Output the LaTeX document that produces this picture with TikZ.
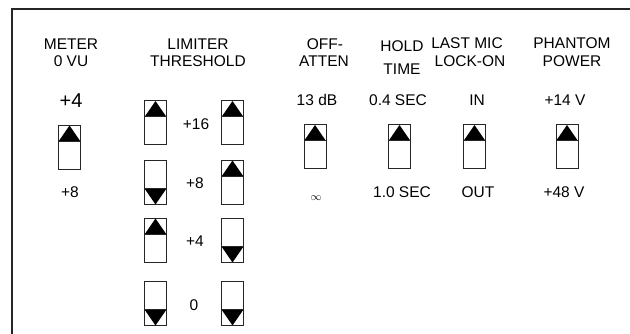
\documentclass[tikz,border=0pt]{standalone}
\usepackage{fontspec}
\setmainfont{Liberation Sans}
\begin{document}
\begin{tikzpicture}[x=1pt,y=-1pt,
  lbl/.style={inner sep=0pt,anchor=base,font=\fontsize{15.5}{18}\selectfont},
  big/.style={inner sep=0pt,anchor=base,font=\fontsize{20}{24}\selectfont},
  switchbox/.style={draw=black!85,line width=1pt,fill=white,minimum width=22pt,minimum height=44pt,inner sep=0pt},
  swup/.style={switchbox,path picture={\fill[black] (path picture bounding box.north) -- ([yshift=-16pt]path picture bounding box.north east) -- ([yshift=-16pt]path picture bounding box.north west) -- cycle;
     \draw[black!85,line width=1pt] ([yshift=-16pt]path picture bounding box.north east) -- ([yshift=-16pt]path picture bounding box.north west);}},
  swdown/.style={switchbox,path picture={\fill[black] (path picture bounding box.south) -- ([yshift=16pt]path picture bounding box.south east) -- ([yshift=16pt]path picture bounding box.south west) -- cycle;
     \draw[black!85,line width=1pt] ([yshift=16pt]path picture bounding box.south east) -- ([yshift=16pt]path picture bounding box.south west);}}
]
\useasboundingbox (0,0) rectangle (630,334);
\coordinate (fr1) at (630,9);
\coordinate (fr2) at (12,9);
\coordinate (fr3) at (12,334);
\draw[line width=1.6pt,black!85] (fr1) -- (fr2) -- (fr3);

% headers
\node[lbl] (h1a) at (71,50) {METER};
\node[lbl] (h1b) at (71,67) {0 VU};
\node[lbl] (h2a) at (198,50) {LIMITER};
\node[lbl] (h2b) at (198,67) {THRESHOLD};
\node[lbl] (h3a) at (325,50) {OFF-};
\node[lbl] (h3b) at (324,67) {ATTEN};
\node[lbl] (h4a) at (402,52) {HOLD};
\node[lbl] (h4b) at (402,75) {TIME};
\node[lbl] (h5a) at (467,49) {LAST MIC};
\node[lbl] (h5b) at (470,67) {LOCK-ON};
\node[lbl] (h6a) at (572,49) {PHANTOM};
\node[lbl] (h6b) at (572,67) {POWER};

% top values
\node[big] (v1) at (71,108) {+4};
\node[lbl] (v3) at (317,106) {13 dB};
\node[lbl] (v4) at (398,106) {0.4 SEC};
\node[lbl] (v5) at (477,106) {IN};
\node[lbl] (v6) at (565,106) {+14 V};

% bottom values
\node[lbl] (b1) at (70,198) {+8};
\node[inner sep=0pt,font=\fontsize{11}{12}\selectfont] (b3) at (316,198) {$\infty$};
\node[lbl] (b4) at (402,198) {1.0 SEC};
\node[lbl] (b5) at (478,198) {OUT};
\node[lbl] (b6) at (564,198) {+48 V};

% single switches
\node[swup] (s1) at (69.5,147.5) {};
\node[swup] (s3) at (315,147) {};
\node[swup] (s4) at (399.5,147) {};
\node[swup] (s5) at (474.5,147) {};
\node[swup] (s6) at (567,147) {};

% limiter switches
\node[swup]   (l1a) at (155.5,123) {};
\node[swup]   (l1b) at (232.5,123) {};
\node[swdown] (l2a) at (155.5,182.5) {};
\node[swup]   (l2b) at (232.5,182.5) {};
\node[swup]   (l3a) at (155.5,240.5) {};
\node[swdown] (l3b) at (232.5,240.5) {};
\node[swdown] (l4a) at (155.5,303.5) {};
\node[swdown] (l4b) at (232.5,303.5) {};

\node[lbl] (t1) at (196,130) {+16};
\node[lbl] (t2) at (195,189) {+8};
\node[lbl] (t3) at (195,247) {+4};
\node[lbl] (t4) at (194,310) {0};
\end{tikzpicture}
\end{document}
